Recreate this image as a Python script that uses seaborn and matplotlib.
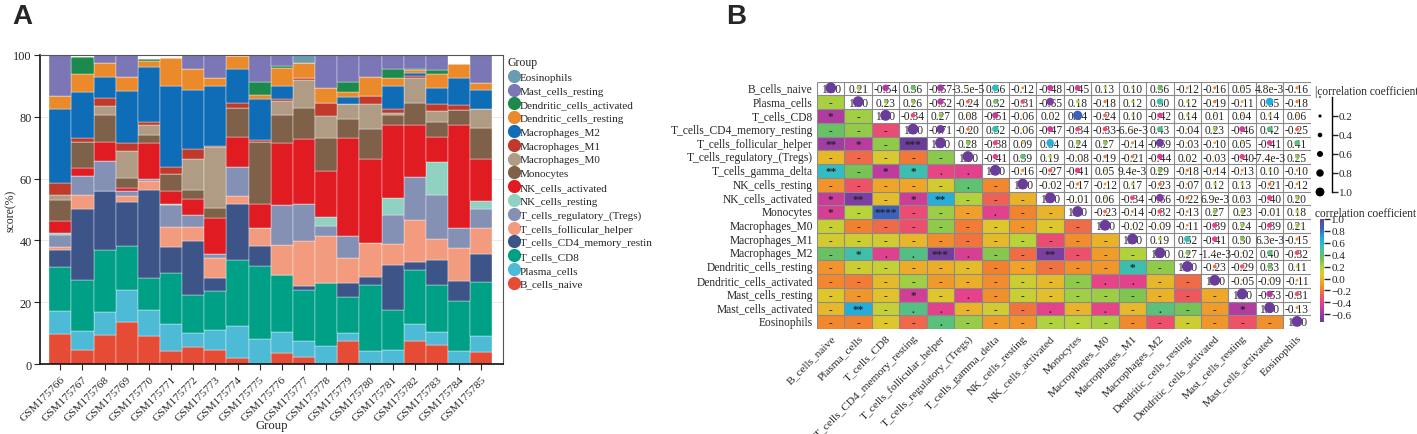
import numpy as np
import pandas as pd
import matplotlib
matplotlib.use("Agg")
import matplotlib.pyplot as plt
from matplotlib.colors import LinearSegmentedColormap, Normalize
from matplotlib.lines import Line2D
import seaborn as sns

# ---------------- panel A data: CIBERSORT-like fractions per sample ----------------
samples = ["GSM175766", "GSM175767", "GSM175768", "GSM175769", "GSM175770",
           "GSM175771", "GSM175772", "GSM175773", "GSM175774", "GSM175775",
           "GSM175776", "GSM175777", "GSM175778", "GSM175779", "GSM175780",
           "GSM175781", "GSM175782", "GSM175783", "GSM175784", "GSM175785"]

b_naive = [9.7, 4.5, 9.5, 13.5, 9.0, 4.3, 5.6, 4.5, 1.8, 0, 3.6, 2.4, 0, 7.6, 0, 0, 7.4, 6.3, 0, 3.8]
plasma = [7.4, 6.1, 7.3, 10.5, 8.6, 8.7, 4.3, 6.6, 10.4, 8.1, 6.9, 5.0, 5.7, 2.5, 4.1, 4.5, 5.4, 4.0, 4.3, 5.4]
cd8 = [14.3, 16.6, 20.2, 14.1, 10.2, 16.5, 12.5, 12.5, 21.5, 23.5, 18.4, 16.6, 20.5, 11.7, 21.5, 13.0, 17.5, 15.4, 16.0, 17.3]
cd4_mem = [5.4, 22.9, 18.9, 14.3, 28.4, 8.3, 17.3, 4.3, 18.2, 6.6, 0, 1.4, 0, 4.5, 2.7, 14.4, 2.7, 7.8, 6.4, 9.2]
tfh = [1.0, 4.7, 0, 1.9, 3.0, 6.5, 4.6, 6.5, 2.5, 5.9, 9.7, 14.3, 15.1, 8.1, 10.9, 6.8, 13.7, 6.8, 10.8, 8.3]
tregs = [4.0, 6.1, 9.7, 1.6, 0.7, 7.1, 3.8, 1.3, 9.4, 0, 13.0, 12.0, 3.2, 6.9, 0, 9.6, 13.8, 14.3, 6.6, 6.1]
nk_rest = [0.6, 0, 0, 0, 0, 0.5, 0, 0, 0, 0, 0, 0, 3.1, 0, 0, 5.4, 0, 10.8, 0, 2.5]
nk_act = [3.8, 2.6, 6.3, 1.2, 11.7, 4.1, 5.4, 11.7, 9.5, 7.8, 19.8, 21.1, 14.8, 31.9, 27.3, 23.8, 17.0, 8.1, 33.2, 13.7]
mono = [7.0, 8.4, 8.6, 3.2, 2.5, 5.4, 2.7, 3.2, 9.7, 20.0, 9.1, 9.9, 10.6, 6.0, 9.4, 3.0, 7.0, 4.7, 4.9, 10.1]
mac_m0 = [1.4, 0, 3.0, 8.6, 3.2, 0, 10.0, 19.5, 0, 0, 4.6, 9.2, 7.3, 4.8, 8.2, 0.8, 7.9, 3.6, 0, 6.1]
mac_m1 = [4.1, 1.3, 2.7, 2.5, 1.1, 2.4, 3.3, 0.4, 1.6, 0.5, 0.5, 0.7, 4.2, 0, 2.6, 1.1, 0.8, 2.5, 1.6, 0]
mac_m2 = [23.7, 14.9, 6.8, 16.9, 17.8, 26.3, 19.1, 19.4, 10.8, 13.2, 4.5, 0, 0, 2.3, 0, 7.7, 1.1, 5.1, 8.6, 6.1]
dc_rest = [4.4, 5.6, 4.5, 4.7, 1.9, 9.0, 6.8, 2.7, 4.4, 1.6, 5.8, 4.7, 4.9, 1.6, 6.1, 2.3, 0.8, 4.3, 4.6, 2.2]
dc_act = [0, 5.5, 0, 0, 0.5, 0, 0, 0, 0, 3.9, 0.6, 0, 0, 3.5, 0, 3.1, 0.5, 1.4, 0, 0]
mast_rest = [13.2, 0, 2.5, 7.0, 0, 0, 4.6, 7.4, 0, 8.9, 3.5, 0, 10.6, 8.6, 7.2, 4.5, 4.4, 4.9, 0, 9.2]
eos = [0, 0, 0, 0, 0, 0, 0, 0, 0, 0, 0, 2.7, 0, 0, 0, 0, 0, 0, 0, 0]

# bottom of the stack first
stack_cells = ["B_cells_naive", "Plasma_cells", "T_cells_CD8", "T_cells_CD4_memory_restin",
               "T_cells_follicular_helper", "T_cells_regulatory_(Tregs)", "NK_cells_resting",
               "NK_cells_activated", "Monocytes", "Macrophages_M0", "Macrophages_M1",
               "Macrophages_M2", "Dendritic_cells_resting", "Dendritic_cells_activated",
               "Mast_cells_resting", "Eosinophils"]
stack_values = [b_naive, plasma, cd8, cd4_mem, tfh, tregs, nk_rest, nk_act, mono,
                mac_m0, mac_m1, mac_m2, dc_rest, dc_act, mast_rest, eos]
stack_colors = ["#E64B35", "#4DBBD5", "#00A087", "#3C5488", "#F39B7F", "#8491B4", "#91D1C2",
                "#E11B22", "#7E6148", "#B09C85", "#C0392B", "#0F6CB6", "#EA8A2A", "#1B8A4C",
                "#7B76B5", "#6A9BB0"]

# ---------------- panel B data: correlation matrix (upper triangle, row by row) ----------------
cells = ["B_cells_naive", "Plasma_cells", "T_cells_CD8", "T_cells_CD4_memory_resting",
         "T_cells_follicular_helper", "T_cells_regulatory_(Tregs)", "T_cells_gamma_delta",
         "NK_cells_resting", "NK_cells_activated", "Monocytes", "Macrophages_M0",
         "Macrophages_M1", "Macrophages_M2", "Dendritic_cells_resting",
         "Dendritic_cells_activated", "Mast_cells_resting", "Mast_cells_activated", "Eosinophils"]

corr_upper = [
    [1.00, 0.21, -0.54, 0.36, -0.57, -3.5e-5, 0.56, -0.12, -0.48, -0.45, 0.13, 0.10, 0.36, -0.12, -0.16, 0.05, 4.8e-3, -0.16],
    [1.00, 0.23, 0.26, -0.52, -0.24, 0.32, -0.31, -0.65, 0.18, -0.18, 0.12, 0.50, 0.12, -0.19, -0.11, 0.65, -0.18],
    [1.00, -0.34, 0.27, 0.08, -0.51, -0.06, 0.02, 0.84, -0.24, 0.10, -0.42, 0.14, 0.01, 0.04, 0.14, 0.06],
    [1.00, -0.71, -0.20, 0.52, -0.06, -0.47, -0.34, -0.33, -6.6e-3, 0.43, -0.04, 0.23, -0.46, 0.42, -0.25],
    [1.00, 0.28, -0.38, 0.09, 0.64, 0.24, 0.27, -0.14, -0.69, -0.03, -0.10, 0.05, -0.41, 0.41],
    [1.00, -0.41, 0.39, 0.19, -0.08, -0.19, -0.21, -0.44, 0.02, -0.03, -0.40, -7.4e-3, 0.25],
    [1.00, -0.16, -0.27, -0.41, 0.05, 9.4e-3, 0.29, -0.18, -0.14, -0.13, 0.10, -0.10],
    [1.00, -0.02, -0.17, -0.12, 0.17, -0.23, -0.07, 0.12, 0.13, -0.21, -0.12],
    [1.00, -0.01, 0.06, -0.34, -0.66, -0.22, 6.9e-3, 0.03, -0.40, 0.20],
    [1.00, -0.23, -0.14, -0.32, -0.13, 0.27, 0.23, -0.01, 0.18],
    [1.00, -0.02, -0.09, -0.11, -0.39, 0.24, -0.39, 0.21],
    [1.00, 0.19, 0.52, -0.41, 0.30, 6.3e-3, -0.15],
    [1.00, 0.27, -1.4e-3, -0.02, 0.40, -0.32],
    [1.00, -0.23, -0.29, 0.33, 0.11],
    [1.00, -0.05, -0.09, -0.11],
    [1.00, -0.53, -0.31],
    [1.00, -0.13],
    [1.00],
]

# significance marks in the lower triangle, row by row
sig_lower = [
    "",
    "-",
    "* -",
    "- - -",
    "** * - ***",
    "- - - - -",
    "** - * * . .",
    "- - - - - . -",
    "* ** - * ** - - -",
    "* - **** - - - . - -",
    "- - - - - - - - - -",
    "- - - - - - - - - - -",
    "- * . . *** . - - ** - - -",
    "- - - - - - - - - - - * -",
    "- - - - - - - - - - . . - -",
    "- - - * - . - - - - - - - - -",
    "- ** - . . - - - . - . - . - - *",
    "- - - - . - - - - - - - - - - - -",
]

size_levels = [0.0, 0.2, 0.4, 0.6, 0.8, 1.0]

# ---------------- style ----------------
sns.set_style("white")
plt.rcParams["font.family"] = ["Liberation Serif", "DejaVu Serif"]
plt.rcParams["axes.unicode_minus"] = True

fig = plt.figure(figsize=(14.17, 4.35), dpi=100)

# ================= panel A =================
axa = fig.add_axes([0.0282, 0.1609, 0.3267, 0.7104])
rows = []
for cell, vals in zip(stack_cells, stack_values):
    for k, v in enumerate(vals):
        rows.append((k, cell, v))
df = pd.DataFrame(rows, columns=["idx", "cell", "score"])

legend_order = stack_cells[::-1]
pal = dict(zip(stack_cells, stack_colors))
sns.histplot(data=df, x="idx", weights="score", hue="cell", hue_order=legend_order,
             palette=pal, multiple="stack", discrete=True, shrink=1, alpha=1,
             edgecolor="white", linewidth=0.25, legend=False, ax=axa)

axa.set_xlim(-0.92, 19.98)
axa.set_ylim(0, 100)
axa.set_yticks([0, 20, 40, 60, 80, 100])
axa.set_xticks(range(len(samples)))
axa.set_xticklabels(samples, rotation=45, ha="right", rotation_mode="anchor", fontsize=8.2)
axa.tick_params(axis="y", labelsize=8.8, pad=2)
axa.tick_params(bottom=True, left=True, direction="out", length=4, width=0.8)
axa.set_xlabel("Group", fontsize=9.2)
axa.xaxis.set_label_coords(0.5, -0.178)
axa.set_ylabel("score(%)", fontsize=8.5)
axa.yaxis.set_label_coords(-0.05, 0.5)
axa.yaxis.grid(True, color="#e6e6e6", lw=0.6)
axa.set_axisbelow(True)
for s in ["left", "bottom"]:
    axa.spines[s].set_color("#111111")
    axa.spines[s].set_linewidth(1.2)
for s in ["top", "right"]:
    axa.spines[s].set_color("#555555")
    axa.spines[s].set_linewidth(0.8)

handles = [Line2D([], [], marker="o", ls="", markersize=9.5, markerfacecolor=pal[c],
                  markeredgewidth=0) for c in legend_order]
fig.legend(handles, legend_order, title="Group", loc="upper left",
           bbox_to_anchor=(508 / 1417, 1 - 57 / 435), frameon=False, fontsize=8,
           title_fontsize=8.5, labelspacing=0.36, handletextpad=0.05, handlelength=1.0,
           borderpad=0, borderaxespad=0, alignment="left")

# ================= panel B =================
n = len(cells)
mat = np.zeros((n, n))
for i, row in enumerate(corr_upper):
    for k, v in enumerate(row):
        mat[i, i + k] = v
        mat[i + k, i] = v

vmin, vmax = -0.73, 1.0
anchors = [(-0.73, "#6a3d9a"), (-0.62, "#863fa6"), (-0.5, "#c43c9c"), (-0.4, "#e6428a"),
           (-0.3, "#ee5462"), (-0.18, "#f2812f"), (-0.05, "#efa928"), (0.05, "#dfc62c"),
           (0.18, "#b8d43a"), (0.33, "#74c257"), (0.45, "#4cbf90"), (0.55, "#34bfc0"),
           (0.68, "#1fa8e4"), (0.84, "#3a62be"), (1.0, "#6a3d9a")]
cmap = LinearSegmentedColormap.from_list(
    "corr", [((v - vmin) / (vmax - vmin), c) for v, c in anchors])
norm = Normalize(vmin, vmax)

axb = fig.add_axes([0.5766, 0.2414, 0.3484, 0.5685])
cax = fig.add_axes([0.9315, 0.2575, 0.0032, 0.2368])
upper_mask = np.triu(np.ones((n, n), dtype=bool))
sns.heatmap(mat, mask=upper_mask, cmap=cmap, vmin=vmin, vmax=vmax, cbar_ax=cax,
            xticklabels=cells, yticklabels=cells, ax=axb)

# upper triangle: numbers with coloured circles
for i in range(n):
    for j in range(i, n):
        v = mat[i, j]
        if abs(v) < 0.01 and v != 0:
            txt = f"{v:.1e}".replace("e-0", "e-")
        else:
            txt = f"{v:.2f}"
        axb.text(j + 0.5, i + 0.52, txt, ha="center", va="center", fontsize=8.3, zorder=3)
iu, ju = np.triu_indices(n)
vals_u = mat[iu, ju]
axb.scatter(ju + 0.5, iu + 0.45, s=((1.2 + 6.6 * np.abs(vals_u))) ** 2, c=vals_u,
            cmap=cmap, norm=norm, linewidths=0, zorder=4)

# lower triangle: significance marks
for i, line in enumerate(sig_lower):
    for j, mark in enumerate(line.split()):
        axb.text(j + 0.5, i + 0.55, mark, ha="center", va="center", fontsize=8,
                 fontweight="bold", zorder=3)

axb.hlines(np.arange(n + 1), 0, n, color="#8a8a8a", lw=0.8, zorder=2.5)
axb.vlines(np.arange(n + 1), 0, n, color="#8a8a8a", lw=0.8, zorder=2.5)
axb.set_xlim(0, n)
axb.set_ylim(n, 0)
axb.tick_params(length=0, pad=3)
axb.set_yticklabels(cells, rotation=0, fontsize=8.3)
axb.set_xticklabels(cells, rotation=45, ha="right", va="top", rotation_mode="anchor",
                    fontsize=8.2)

cb = axb.collections[0].colorbar
cb.set_ticks([-0.6, -0.4, -0.2, 0.0, 0.2, 0.4, 0.6, 0.8, 1.0])
cb.outline.set_visible(False)
cax.tick_params(labelsize=8, length=4, width=1, right=True, pad=1)
fig.text(1315 / 1417, 1 - 214 / 435, "correlation coefficient", fontsize=8.3, va="center")

# size legend
axs = fig.add_axes([1312 / 1417, 1 - 193 / 435, 20 / 1417, 95 / 435])
axs.scatter([0.4] * len(size_levels), size_levels,
            s=[(1.2 + 5.2 * v) ** 2 for v in size_levels], color="black",
            linewidths=0, clip_on=False)
axs.set_xlim(0, 1)
axs.set_ylim(1.0, 0.0)
axs.patch.set_visible(False)
for s in ["left", "top", "bottom"]:
    axs.spines[s].set_visible(False)
axs.spines["right"].set_color("black")
axs.spines["right"].set_linewidth(1)
axs.set_xticks([])
axs.yaxis.tick_right()
axs.set_yticks([0.2, 0.4, 0.6, 0.8, 1.0])
axs.set_yticklabels(["0.2", "0.4", "0.6", "0.8", "1.0"])
axs.tick_params(axis="y", right=True, left=False, length=4, width=1, labelsize=8, pad=1)
fig.text(1315 / 1417, 1 - 92 / 435, "|correlation coefficient|", fontsize=8.3, va="center")

# panel letters
fig.text(12 / 1417, 1 - 4 / 435, "A", fontsize=20, fontweight="bold",
         family="Liberation Sans", va="top")
fig.text(726 / 1417, 1 - 4 / 435, "B", fontsize=20, fontweight="bold",
         family="Liberation Sans", va="top")

fig.savefig("out.png", dpi=100)
